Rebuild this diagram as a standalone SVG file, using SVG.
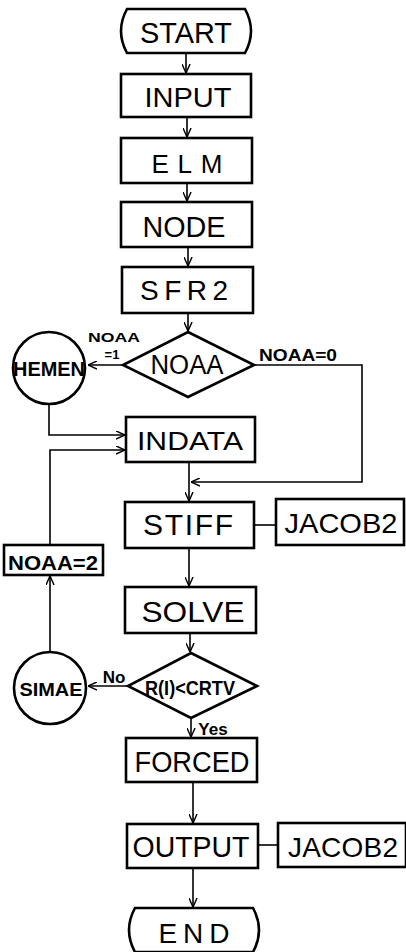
<svg xmlns="http://www.w3.org/2000/svg" width="406" height="952" viewBox="0 0 406 952">
<style>
.box{fill:#fff;stroke:#000;stroke-width:2.6}
.t{font-family:"Liberation Sans",Arial,sans-serif;fill:#000;text-anchor:middle}
.b{font-weight:bold}
.lbl{font-family:"Liberation Sans",Arial,sans-serif;fill:#000;text-anchor:middle;font-weight:bold}
#connectors path{fill:none;stroke:#000;stroke-width:1.6}
</style>
<defs>
<marker id="arr" viewBox="0 0 10 10" refX="10" refY="5" markerWidth="9" markerHeight="9" markerUnits="userSpaceOnUse" orient="auto">
<path d="M0,0.5 L10,5 L0,9.5" fill="none" stroke="#000" stroke-width="1.6"/>
</marker>
</defs>
<rect width="406" height="952" fill="#fff"/>
<g id="connectors">
<path d="M186,53 V73" marker-end="url(#arr)"/>
<path d="M187,117 V137" marker-end="url(#arr)"/>
<path d="M187,183 V201" marker-end="url(#arr)"/>
<path d="M188,247 V266" marker-end="url(#arr)"/>
<path d="M188,313 V331" marker-end="url(#arr)"/>
<path d="M123,365 H88" marker-end="url(#arr)"/>
<path d="M254,365 H362 V482 H191" marker-end="url(#arr)"/>
<path d="M49,404 V435 H125" marker-end="url(#arr)"/>
<path d="M50,545 V450 H125" marker-end="url(#arr)"/>
<path d="M189,462 V501" marker-end="url(#arr)"/>
<path d="M254,525 H276"/>
<path d="M189,548 V586" marker-end="url(#arr)"/>
<path d="M190,633 V652" marker-end="url(#arr)"/>
<path d="M128,686 H88" marker-end="url(#arr)"/>
<path d="M50,652 V576" marker-end="url(#arr)"/>
<path d="M191,718 V737" marker-end="url(#arr)"/>
<path d="M193,782 V823" marker-end="url(#arr)"/>
<path d="M258,845 H278"/>
<path d="M193,868 V907" marker-end="url(#arr)"/>
</g>
<g id="start">
<path class="box" d="M127,9 L245,9 Q257,31 245,53 L127,53 Q115,31 127,9 Z"/>
<text class="t" x="186" y="43" font-size="30" textLength="92" lengthAdjust="spacingAndGlyphs">START</text>
</g>
<g id="input">
<rect class="box" x="121" y="74" width="130" height="43"/>
<text class="t" x="188" y="107" font-size="28" textLength="87" lengthAdjust="spacingAndGlyphs">INPUT</text>
</g>
<g id="elm">
<rect class="box" x="121" y="138" width="131" height="45"/>
<text class="t" x="187" y="173" font-size="26" textLength="71" lengthAdjust="spacing">ELM</text>
</g>
<g id="node">
<rect class="box" x="121" y="202" width="131" height="45"/>
<text class="t" x="184" y="237" font-size="30" textLength="83" lengthAdjust="spacingAndGlyphs">NODE</text>
</g>
<g id="sfr2">
<rect class="box" x="122" y="267" width="131" height="46"/>
<text class="t" x="184" y="300" font-size="28" textLength="88" lengthAdjust="spacing">SFR2</text>
</g>
<g id="noaa">
<path class="box" d="M188,332 L254,365 L188,397 L123,365 Z"/>
<text class="t" x="187" y="374" font-size="27" textLength="73" lengthAdjust="spacingAndGlyphs">NOAA</text>
<text class="lbl" x="114" y="342" font-size="13" textLength="52" lengthAdjust="spacingAndGlyphs">NOAA</text>
<text class="lbl" x="112" y="359" font-size="13">=1</text>
<text class="lbl" x="298" y="361" font-size="16" textLength="78" lengthAdjust="spacingAndGlyphs">NOAA=0</text>
</g>
<g id="hemen">
<circle class="box" cx="49" cy="368" r="36"/>
<text class="t b" x="49" y="376" font-size="21" textLength="72" lengthAdjust="spacingAndGlyphs">HEMEN</text>
</g>
<g id="indata">
<rect class="box" x="126" y="417" width="129" height="45"/>
<text class="t" x="190" y="450" font-size="26" textLength="106" lengthAdjust="spacingAndGlyphs">INDATA</text>
</g>
<g id="stiff">
<rect class="box" x="125" y="502" width="129" height="46"/>
<text class="t" x="188" y="535" font-size="30" textLength="90" lengthAdjust="spacing">STIFF</text>
</g>
<g id="jacob2a">
<rect class="box" x="276" y="499" width="128" height="46"/>
<text class="t" x="341" y="533" font-size="28" textLength="113" lengthAdjust="spacingAndGlyphs">JACOB2</text>
</g>
<g id="noaa2">
<rect class="box" x="4" y="545" width="99" height="30"/>
<text class="t b" x="53" y="570" font-size="21" textLength="90" lengthAdjust="spacingAndGlyphs">NOAA=2</text>
</g>
<g id="solve">
<rect class="box" x="125" y="587" width="131" height="46"/>
<text class="t" x="193" y="622" font-size="30" textLength="103" lengthAdjust="spacingAndGlyphs">SOLVE</text>
</g>
<g id="crtv">
<path class="box" d="M191,653 L257,686 L191,718 L128,686 Z"/>
<text class="t b" x="190" y="695" font-size="20" textLength="90" lengthAdjust="spacingAndGlyphs">R(I)&lt;CRTV</text>
<text class="lbl" x="114" y="683" font-size="17">No</text>
<text class="lbl" x="213" y="735" font-size="17">Yes</text>
</g>
<g id="simae">
<circle class="box" cx="50" cy="688" r="36"/>
<text class="t b" x="51" y="696" font-size="19" textLength="63" lengthAdjust="spacingAndGlyphs">SIMAE</text>
</g>
<g id="forced">
<rect class="box" x="126" y="738" width="131" height="44"/>
<text class="t" x="192" y="772" font-size="30" textLength="115" lengthAdjust="spacingAndGlyphs">FORCED</text>
</g>
<g id="output">
<rect class="box" x="127" y="824" width="131" height="44"/>
<text class="t" x="191" y="857" font-size="29" textLength="117" lengthAdjust="spacingAndGlyphs">OUTPUT</text>
</g>
<g id="jacob2b">
<rect class="box" x="278" y="823" width="128" height="44"/>
<text class="t" x="343" y="857" font-size="28" textLength="110" lengthAdjust="spacing">JACOB2</text>
</g>
<g id="end">
<path class="box" d="M135,908 L253,908 Q265,930 253,952 L135,952 Q123,930 135,908 Z"/>
<text class="t" x="194" y="943" font-size="28" textLength="71" lengthAdjust="spacing">END</text>
</g>
</svg>
